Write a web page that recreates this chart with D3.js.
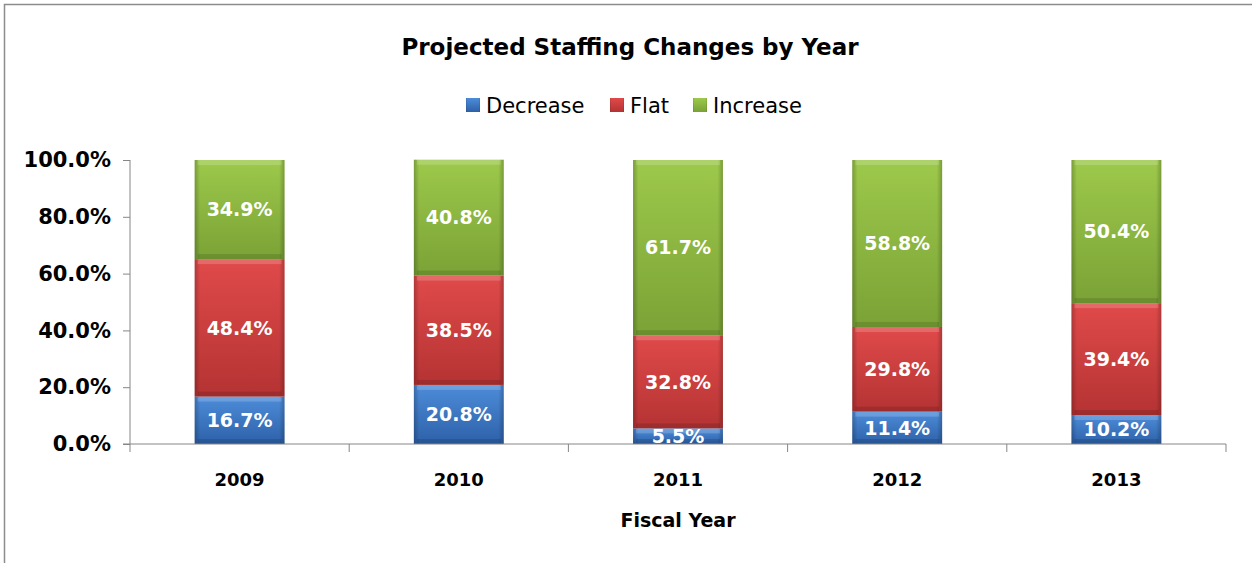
<!DOCTYPE html>
<html>
<head>
<meta charset="utf-8">
<script src="https://cdn.jsdelivr.net/npm/d3@7"></script>
<style>
  body { margin: 0; background: #fff; }
  svg { display: block; font-family: "DejaVu Sans", Verdana, sans-serif; }
</style>
</head>
<body>
<div id="chart"></div>
<script>
const years = ["2009", "2010", "2011", "2012", "2013"];
const seriesNames = ["Decrease", "Flat", "Increase"];
const decrease = [16.7, 20.8, 5.5, 11.4, 10.2];
const flat = [48.4, 38.5, 32.8, 29.8, 39.4];
const increase = [34.9, 40.8, 61.7, 58.8, 50.4];
const yTicks = [0, 20, 40, 60, 80, 100];

// top colour, bottom colour
const colors = {
  Decrease: ["#4d8cd9", "#2d61a8"],
  Flat: ["#e04a4a", "#b53333"],
  Increase: ["#9dc94b", "#7aa236"]
};

const width = 1252, height = 563;
const margin = { top: 160, right: 26, bottom: 119, left: 130 };

const svg = d3.select("#chart").append("svg")
  .attr("width", width)
  .attr("height", height);

// chart area border (only top and left visible)
svg.append("path")
  .attr("d", `M4.5,${height} V4.5 H${width}`)
  .attr("fill", "none")
  .attr("stroke", "#8c8c8c")
  .attr("stroke-width", 1.5);

const defs = svg.append("defs");
seriesNames.forEach(name => {
  const c = colors[name];
  const grad = defs.append("linearGradient")
    .attr("id", "grad-" + name)
    .attr("x1", "0").attr("x2", "0").attr("y1", "0").attr("y2", "1");
  grad.append("stop").attr("offset", "0%").attr("stop-color", c[0]);
  grad.append("stop").attr("offset", "100%").attr("stop-color", c[1]);
});
// darker side edges
const edge = defs.append("linearGradient")
  .attr("id", "edge")
  .attr("x1", "0").attr("x2", "1").attr("y1", "0").attr("y2", "0");
edge.append("stop").attr("offset", "0%").attr("stop-color", "#000").attr("stop-opacity", 0.22);
edge.append("stop").attr("offset", "6%").attr("stop-color", "#000").attr("stop-opacity", 0);
edge.append("stop").attr("offset", "94%").attr("stop-color", "#000").attr("stop-opacity", 0);
edge.append("stop").attr("offset", "100%").attr("stop-color", "#000").attr("stop-opacity", 0.22);

const x = d3.scaleBand()
  .domain(years)
  .range([margin.left, width - margin.right])
  .paddingInner(0.59)
  .paddingOuter(0.295);

const y = d3.scaleLinear()
  .domain([0, 100])
  .range([height - margin.bottom, margin.top]);

// title
svg.append("text")
  .attr("x", 630).attr("y", 55)
  .attr("text-anchor", "middle")
  .attr("font-size", 23).attr("font-weight", "bold")
  .text("Projected Staffing Changes by Year");

// legend
const legendItems = [
  { name: "Decrease", x: 466 },
  { name: "Flat", x: 610 },
  { name: "Increase", x: 693 }
];
const legend = svg.append("g");
legendItems.forEach(item => {
  const g = legend.append("g").attr("transform", `translate(${item.x},98)`);
  g.append("rect").attr("width", 14).attr("height", 14)
    .attr("fill", `url(#grad-${item.name})`);
  g.append("rect").attr("width", 14).attr("height", 14)
    .attr("fill", "url(#edge)");
  g.append("text").attr("x", 20).attr("y", 15)
    .attr("font-size", 21)
    .text(item.name);
});

// stack data
const rows = years.map((yr, i) => ({
  year: yr, Decrease: decrease[i], Flat: flat[i], Increase: increase[i]
}));
const stacked = d3.stack().keys(seriesNames)(rows);

const barGroup = svg.append("g");
stacked.forEach(layer => {
  const name = layer.key;
  const seg = barGroup.append("g").selectAll("g")
    .data(layer)
    .enter().append("g");
  const segH = d => y(d[0]) - y(d[1]);
  seg.append("rect")
    .attr("x", d => x(d.data.year))
    .attr("y", d => y(d[1]))
    .attr("width", x.bandwidth())
    .attr("height", segH)
    .attr("fill", `url(#grad-${name})`);
  seg.append("rect")
    .attr("x", d => x(d.data.year))
    .attr("y", d => y(d[1]))
    .attr("width", x.bandwidth())
    .attr("height", segH)
    .attr("fill", "url(#edge)");
  // bevel: light top strip, dark bottom strip
  seg.append("rect")
    .attr("x", d => x(d.data.year) + 3)
    .attr("y", d => y(d[1]))
    .attr("width", x.bandwidth() - 6)
    .attr("height", d => Math.min(5, segH(d) / 3))
    .attr("fill", "#fff")
    .attr("opacity", 0.18);
  seg.append("rect")
    .attr("x", d => x(d.data.year) + 3)
    .attr("y", d => y(d[0]) - Math.min(5, segH(d) / 3))
    .attr("width", x.bandwidth() - 6)
    .attr("height", d => Math.min(5, segH(d) / 3))
    .attr("fill", "#000")
    .attr("opacity", 0.12);
});

// data labels
stacked.forEach(layer => {
  barGroup.append("g").selectAll("text")
    .data(layer)
    .enter().append("text")
    .attr("x", d => x(d.data.year) + x.bandwidth() / 2)
    .attr("y", d => (y(d[0]) + y(d[1])) / 2)
    .attr("dy", "0.36em")
    .attr("text-anchor", "middle")
    .attr("font-size", 19).attr("font-weight", "bold")
    .attr("fill", "#fff")
    .text(d => (d[1] - d[0]).toFixed(1) + "%");
});

// y axis
const yAxis = svg.append("g")
  .attr("transform", `translate(${margin.left},0)`)
  .call(d3.axisLeft(y).tickValues(yTicks).tickSize(7).tickFormat(d => d.toFixed(1) + "%"));
yAxis.selectAll("text")
  .attr("font-size", 21).attr("font-weight", "bold").attr("fill", "#000")
  .attr("font-family", "'DejaVu Sans', sans-serif")
  .attr("x", -19);
yAxis.selectAll("line, path").attr("stroke", "#868686");
yAxis.select(".domain").attr("d", `M0,${y(100)}V${y(0)}`);

// x axis
const xAxis = svg.append("g")
  .attr("transform", `translate(0,${y(0)})`);
xAxis.append("line")
  .attr("x1", margin.left - 7).attr("x2", width - margin.right)
  .attr("stroke", "#868686");
const step = x.step();
xAxis.selectAll(".tick-mark")
  .data(d3.range(years.length + 1))
  .enter().append("line")
  .attr("x1", i => margin.left + i * step)
  .attr("x2", i => margin.left + i * step)
  .attr("y1", 0).attr("y2", 8)
  .attr("stroke", "#868686");
xAxis.selectAll(".lbl")
  .data(years)
  .enter().append("text")
  .attr("x", d => x(d) + x.bandwidth() / 2)
  .attr("y", 42)
  .attr("text-anchor", "middle")
  .attr("font-size", 18).attr("font-weight", "bold")
  .text(d => d);

svg.append("text")
  .attr("x", 678).attr("y", 527)
  .attr("text-anchor", "middle")
  .attr("font-size", 19).attr("font-weight", "bold")
  .text("Fiscal Year");
</script>
</body>
</html>
